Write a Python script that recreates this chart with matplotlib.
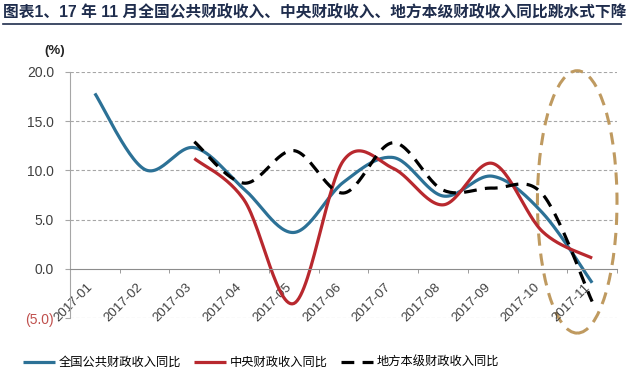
import numpy as np
import matplotlib
matplotlib.use("Agg")
import matplotlib.pyplot as plt
from matplotlib.patches import Ellipse
from matplotlib.lines import Line2D

plt.rcParams['font.family'] = ['Liberation Sans', 'Noto Sans CJK SC', 'DejaVu Sans']

# data (%, year on year)
months = ['2017-01', '2017-02', '2017-03', '2017-04', '2017-05', '2017-06',
          '2017-07', '2017-08', '2017-09', '2017-10', '2017-11']
total = [17.8, 10.1, 12.3, 8.1, 3.7, 8.8, 11.3, 7.4, 9.4, 5.7, -1.4]
central = [None, None, 11.2, 7.0, -3.5, 11.0, 10.2, 6.5, 10.7, 3.8, 1.1]
local = [None, None, 12.9, 8.7, 12.0, 7.7, 12.8, 8.0, 8.2, 7.6, -3.3]
yticks = [-5, 0, 5, 10, 15, 20]
ytick_labels = ['(5.0)', '0.0', '5.0', '10.0', '15.0', '20.0']
names = ['全国公共财政收入同比', '中央财政收入同比', '地方本级财政收入同比']
title = '图表1、17 年 11 月全国公共财政收入、中央财政收入、地方本级财政收入同比跳水式下降'


def smooth(xs, ys, n=30):
    # excel-like smoothed line: bezier through every point
    pts = np.column_stack([xs, ys]).astype(float)
    out = []
    for i in range(len(pts) - 1):
        p0 = pts[max(i - 1, 0)]
        p1 = pts[i]
        p2 = pts[i + 1]
        p3 = pts[min(i + 2, len(pts) - 1)]
        c1 = p1 + (p2 - p0) / 6
        c2 = p2 - (p3 - p1) / 6
        t = np.linspace(0, 1, n)[:, None]
        seg = (1 - t) ** 3 * p1 + 3 * (1 - t) ** 2 * t * c1 + 3 * (1 - t) * t ** 2 * c2 + t ** 3 * p2
        out.append(seg if i == 0 else seg[1:])
    return np.vstack(out)


def curve(vals):
    xs = [i for i, v in enumerate(vals) if v is not None]
    ys = [v for v in vals if v is not None]
    return smooth(xs, ys)


fig = plt.figure(figsize=(6.36, 3.82), dpi=100)
ax = fig.add_axes([70 / 636, 1 - 318.3 / 382, 547 / 636, 246.6 / 382])

ax.spines['top'].set_visible(False)
ax.spines['right'].set_visible(False)
ax.spines['bottom'].set_position(('data', 0))
ax.spines['bottom'].set_color('#8C8C8C')
ax.spines['left'].set_color('#A6A6A6')

c = curve(total)
ax.plot(c[:, 0], c[:, 1], color='#2C7196', lw=2.3, label=names[0], solid_capstyle='butt')
c = curve(central)
ax.plot(c[:, 0], c[:, 1], color='#B8282E', lw=2.3, label=names[1], solid_capstyle='butt')
c = curve(local)
ax.plot(c[:, 0], c[:, 1], color='black', lw=2.3, dashes=(4, 2.6), label=names[2], dash_capstyle='butt')

ax.set_xlim(-0.5, 10.5)
ax.set_ylim(-5, 20)
ax.set_yticks(yticks)
ax.set_yticklabels(ytick_labels)
for lab in ax.get_yticklabels():
    lab.set_color('#C0504D' if lab.get_text().startswith('(') else '#404040')
ax.tick_params(axis='y', length=3.6, color='#A6A6A6', pad=8, labelsize=10)
for v in yticks:
    if v != 0:
        ax.axhline(v, color='#A6A6A6', lw=0.8, dashes=(3, 2), zorder=0)

ax.set_xticks(np.arange(len(months)))
ax.set_xticklabels(months, rotation=45, ha='right', fontsize=9.5, color='#404040')
ax.set_xticks(np.arange(-0.5, len(months)), minor=True)
ax.tick_params(axis='x', which='major', length=0, pad=9)
ax.tick_params(axis='x', which='minor', length=3, color='#8C8C8C', direction='out')

# highlight ring around november
ax.add_patch(Ellipse((9.7, 6.8), 1.6, 26.6, fill=False, ec='#BF9A60', lw=2.2,
                     ls=(0, (4, 2.6)), clip_on=False))

fig.text(0.004, 1 - 12.5 / 382, title, fontsize=11.3, fontweight='bold', color='#1F2D4D',
         va='center', ha='left')
fig.add_artist(Line2D([3 / 636, 621 / 636], [1 - 23.5 / 382] * 2, color='#1F2D4D', lw=1.2))
fig.text(55 / 636, 1 - 51 / 382, '(%)', fontsize=9.5, fontweight='bold', color='#222222',
         ha='center', va='center')

fig.legend(loc='center left', bbox_to_anchor=(23 / 636, 1 - 363 / 382), ncol=3, frameon=False,
           fontsize=8.8, handlelength=2.6, handletextpad=0.3, columnspacing=1.1,
           borderpad=0, borderaxespad=0)

fig.savefig('out.png', dpi=100)
